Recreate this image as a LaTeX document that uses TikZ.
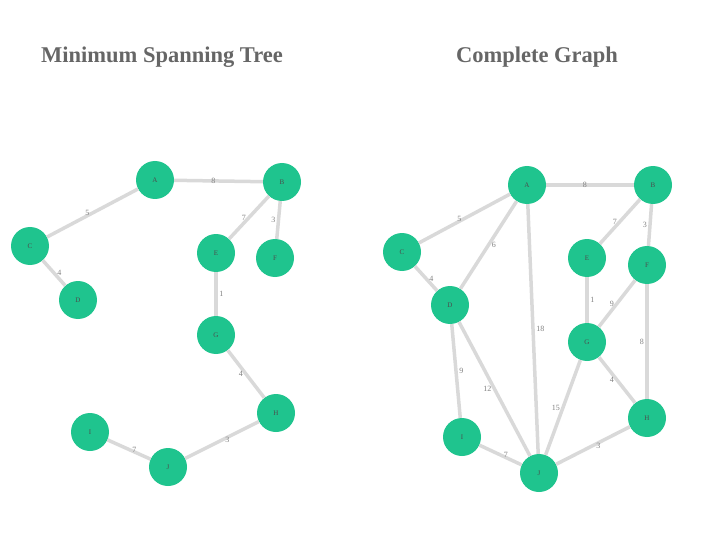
\documentclass[tikz,border=0pt]{standalone}
\usepackage{fontspec}
\setmainfont{Liberation Serif}
\definecolor{nodegreen}{HTML}{1FC48E}
\definecolor{edgegray}{HTML}{D9D9D9}
\tikzset{
  vertex/.style={circle, fill=nodegreen, minimum size=38pt, inner sep=0pt,
    font=\fontsize{7}{8}\selectfont, text=black!70},
  link/.style={draw=edgegray, line width=3.5pt},
  weight/.style={midway, auto, inner sep=1.5pt, font=\fontsize{8}{9}\selectfont, text=gray},
  heading/.style={font=\fontsize{22.5}{26}\selectfont\bfseries, text=black!60}
}

\begin{document}
\begin{tikzpicture}[x=1pt,y=-1pt]
\useasboundingbox (0,0) rectangle (720,540);

% titles
\node[heading] (ttree) at (162,57) {Minimum Spanning Tree};
\node[heading] (tgraph) at (537,57) {Complete Graph};

% tree vertices
\node[vertex] (mA) at (155,180) {A};
\node[vertex] (mB) at (282,182) {B};
\node[vertex] (mC) at (30,246) {C};
\node[vertex] (mD) at (78,300) {D};
\node[vertex] (mE) at (216,253) {E};
\node[vertex] (mF) at (275,258) {F};
\node[vertex] (mG) at (216,335) {G};
\node[vertex] (mH) at (276,413) {H};
\node[vertex] (mI) at (90,432) {I};
\node[vertex] (mJ) at (168,467) {J};

% graph vertices
\node[vertex] (cA) at (527,185) {A};
\node[vertex] (cB) at (653,185) {B};
\node[vertex] (cC) at (402,252) {C};
\node[vertex] (cD) at (450,305) {D};
\node[vertex] (cE) at (587,258) {E};
\node[vertex] (cF) at (647,265) {F};
\node[vertex] (cG) at (587,342) {G};
\node[vertex] (cH) at (647,418) {H};
\node[vertex] (cI) at (462,437) {I};
\node[vertex] (cJ) at (539,473) {J};

% tree edges
\foreach \u/\v/\w/\s in {C/A/5/left, A/B/8/left, E/B/7/left, B/F/3/left,
    C/D/4/right, E/G/1/right, G/H/4/left, J/H/3/right, I/J/7/right}
  \draw[link] (m\u) -- (m\v) node[weight, \s] {\w};

% graph edges
\foreach \u/\v/\w/\s in {C/A/5/left, A/B/8/left, E/B/7/left, B/F/3/left,
    C/D/4/right, E/G/1/right, G/H/4/left, J/H/3/right, I/J/7/right,
    A/D/6/right, A/J/18/right, G/F/9/left, F/H/8/left, D/I/9/right,
    D/J/12/left, J/G/15/left}
  \draw[link] (c\u) -- (c\v) node[weight, \s] {\w};

\end{tikzpicture}
\end{document}
